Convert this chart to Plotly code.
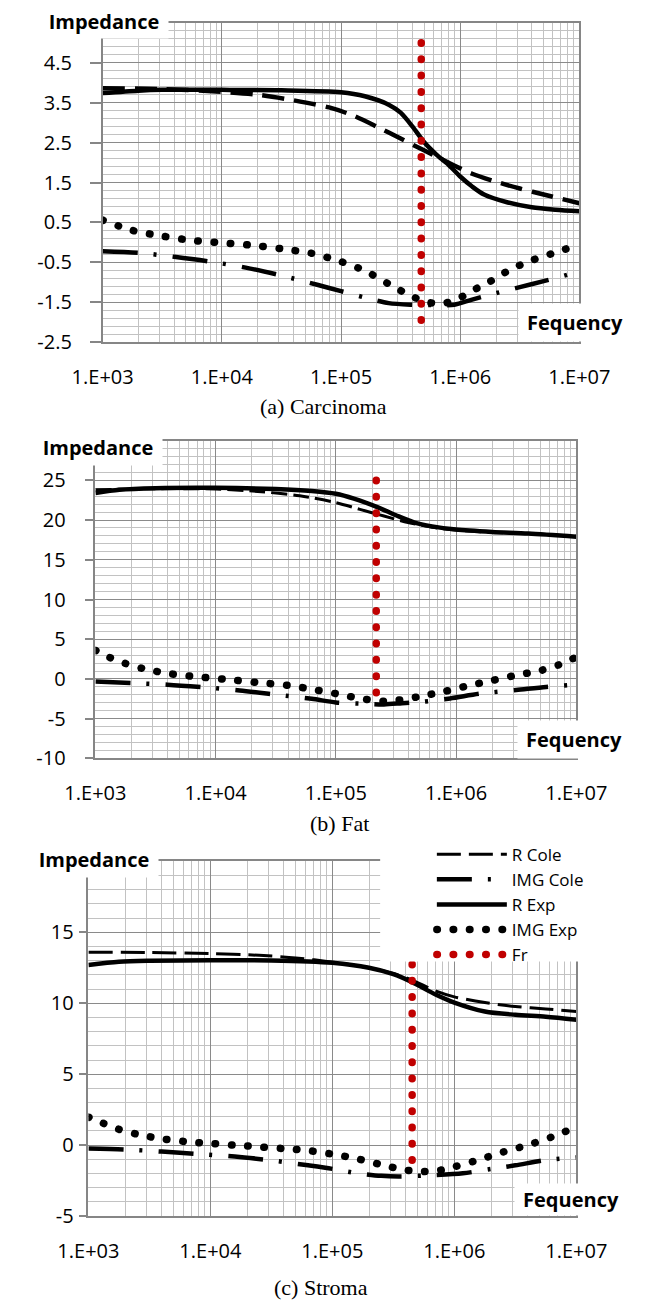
import plotly.graph_objects as go

W, H = 666, 1312

# ---------------- data (x given as log10 of frequency in Hz) ----------------
# (a) Carcinoma
a_rcole_e = [3.0, 3.5, 4.0, 4.3, 4.6, 4.9, 5.1, 5.3, 5.5, 5.7, 5.9, 6.1, 6.3, 6.5, 6.7, 7.0]
a_rcole_v = [3.86, 3.84, 3.77, 3.70, 3.56, 3.38, 3.18, 2.90, 2.60, 2.30, 2.00, 1.72, 1.52, 1.35, 1.20, 0.98]
a_icole_e = [3.0, 3.3, 3.6, 3.9, 4.2, 4.5, 4.8, 5.0, 5.2, 5.4, 5.6, 5.8, 5.95, 6.1, 6.3, 6.5, 6.7, 6.85, 7.0]
a_icole_v = [-0.22, -0.26, -0.36, -0.48, -0.63, -0.83, -1.06, -1.22, -1.38, -1.52, -1.56, -1.57, -1.56, -1.43, -1.27, -1.12, -0.97, -0.85, -0.72]
a_rexp_e = [3.0, 3.3, 3.5, 4.0, 4.5, 5.0, 5.2, 5.4, 5.5, 5.6, 5.7, 5.8, 5.9, 6.0, 6.1, 6.2, 6.4, 6.6, 6.8, 7.0]
a_rexp_v = [3.74, 3.80, 3.82, 3.82, 3.81, 3.76, 3.66, 3.45, 3.25, 2.90, 2.50, 2.20, 1.95, 1.65, 1.40, 1.20, 1.00, 0.88, 0.82, 0.78]
a_iexp_e = [3.0, 3.25, 3.5, 3.75, 4.0, 4.25, 4.5, 4.75, 5.0, 5.2, 5.4, 5.6, 5.75, 5.85, 5.97, 6.1, 6.25, 6.42, 6.6, 6.8, 7.0]
a_iexp_v = [0.56, 0.30, 0.16, 0.05, -0.01, -0.07, -0.16, -0.27, -0.48, -0.71, -1.04, -1.36, -1.51, -1.53, -1.43, -1.21, -0.98, -0.68, -0.45, -0.25, -0.05]
a_fr_e = [5.673, 5.673]
a_fr_v = [5.0, -2.25]
a_yticks = [-2.5, -1.5, -0.5, 0.5, 1.5, 2.5, 3.5, 4.5]

# (b) Fat
b_rcole_e = [3.0, 3.5, 4.0, 4.35, 4.7, 5.0, 5.2, 5.4, 5.6, 5.8, 6.0, 6.3, 6.6, 7.0]
b_rcole_v = [23.8, 23.95, 23.9, 23.6, 23.05, 22.2, 21.35, 20.5, 19.7, 19.1, 18.75, 18.45, 18.3, 17.95]
b_icole_e = [3.0, 3.3, 3.6, 3.9, 4.2, 4.5, 4.8, 5.0, 5.2, 5.4, 5.55, 5.7, 5.95, 6.2, 6.5, 6.75, 7.0]
b_icole_v = [-0.33, -0.52, -0.72, -1.05, -1.45, -1.97, -2.5, -2.95, -3.1, -3.2, -3.05, -2.9, -2.45, -1.85, -1.4, -1.0, -0.7]
b_rexp_e = [3.0, 3.2, 3.5, 4.0, 4.5, 4.8, 5.0, 5.15, 5.35, 5.5, 5.65, 5.8, 6.0, 6.3, 6.6, 7.0]
b_rexp_v = [23.4, 23.8, 24.0, 24.05, 23.9, 23.65, 23.3, 22.7, 21.6, 20.6, 19.7, 19.2, 18.8, 18.5, 18.3, 17.9]
b_iexp_e = [3.0, 3.12, 3.25, 3.4, 3.6, 3.85, 4.1, 4.35, 4.6, 4.8, 5.0, 5.2, 5.4, 5.55, 5.7, 5.9, 6.1, 6.3, 6.5, 6.7, 6.85, 7.0]
b_iexp_v = [3.6, 2.7, 1.95, 1.3, 0.7, 0.27, -0.06, -0.45, -0.8, -1.3, -1.85, -2.45, -2.8, -2.6, -2.2, -1.58, -0.85, -0.2, 0.47, 1.05, 1.75, 2.75]
b_fr_e = [5.336, 5.336]
b_fr_v = [25.0, -3.3]
b_yticks = [-10, -5, 0, 5, 10, 15, 20, 25]

# (c) Stroma
c_rcole_e = [3.0, 3.5, 4.0, 4.4, 4.7, 5.0, 5.3, 5.5, 5.65, 5.85, 6.0, 6.25, 6.5, 6.75, 7.0]
c_rcole_v = [13.6, 13.58, 13.5, 13.38, 13.2, 12.9, 12.5, 12.1, 11.65, 10.85, 10.45, 10.05, 9.77, 9.6, 9.42]
c_icole_e = [3.0, 3.3, 3.6, 3.9, 4.2, 4.5, 4.8, 5.0, 5.2, 5.4, 5.55, 5.8, 6.07, 6.3, 6.5, 6.75, 7.0]
c_icole_v = [-0.23, -0.3, -0.45, -0.62, -0.8, -1.07, -1.42, -1.67, -1.97, -2.16, -2.2, -2.12, -1.98, -1.68, -1.42, -1.05, -0.86]
c_rexp_e = [3.0, 3.25, 3.5, 4.0, 4.5, 5.0, 5.3, 5.5, 5.65, 5.85, 6.0, 6.25, 6.5, 6.75, 7.0]
c_rexp_v = [12.7, 12.93, 13.0, 13.03, 13.02, 12.85, 12.5, 12.05, 11.5, 10.6, 10.05, 9.42, 9.19, 9.05, 8.84]
c_iexp_e = [3.0, 3.12, 3.25, 3.4, 3.6, 3.8, 4.0, 4.2, 4.4, 4.6, 4.8, 5.0, 5.2, 5.4, 5.6, 5.75, 5.88, 6.0, 6.2, 6.4, 6.6, 6.8, 6.92, 7.0]
c_iexp_v = [1.98, 1.55, 1.12, 0.77, 0.45, 0.25, 0.12, 0.0, -0.12, -0.24, -0.38, -0.63, -0.95, -1.37, -1.76, -1.86, -1.77, -1.52, -1.03, -0.48, 0.0, 0.58, 1.0, 1.3]
c_fr_e = [5.654, 5.654]
c_fr_v = [12.75, -2.1]
c_yticks = [-5, 0, 5, 10, 15]

series_names = ["R Cole", "IMG Cole", "R Exp", "IMG Exp", "Fr"]
x_tick_exps = [3, 4, 5, 6, 7]
x_tick_text = ["1.E+03", "1.E+04", "1.E+05", "1.E+06", "1.E+07"]
captions = ["(a) Carcinoma", "(b) Fat", "(c) Stroma"]
y_axis_title = "Impedance"
x_axis_title = "Fequency"

# ---------------- layout geometry (pixels) ----------------
panels = [
    dict(x0=79, x1=604.7, y0=23, y1=345.7, yr=[-2.5, 5.5], yt=a_yticks, t0=0.5, mdt=0.2, tl=11, so=14,
         ibox=(81, 21, 128, 34), fbox=(600, 326, 112, 37), cap=(323, 411), rdash=("22px,10px", 4.5)),
    dict(x0=71, x1=601.3, y0=445, y1=766, yr=[-10, 30], yt=b_yticks, t0=0, mdt=1, tl=9, so=15,
         ibox=(74, 452, 128, 35), fbox=(599, 747, 112, 37), cap=(340, 832), rdash=("16px,6px", 3)),
    dict(x0=63.3, x1=601.3, y0=870, y1=1228.3, yr=[-5, 20], yt=c_yticks, t0=0, mdt=1, tl=8, so=1,
         ibox=(70, 868, 128, 36), fbox=(595, 1212, 112, 31), cap=(320, 1300), rdash=("24px,8px", 3)),
]
data = [
    [(a_rcole_e, a_rcole_v), (a_icole_e, a_icole_v), (a_rexp_e, a_rexp_v), (a_iexp_e, a_iexp_v), (a_fr_e, a_fr_v)],
    [(b_rcole_e, b_rcole_v), (b_icole_e, b_icole_v), (b_rexp_e, b_rexp_v), (b_iexp_e, b_iexp_v), (b_fr_e, b_fr_v)],
    [(c_rcole_e, c_rcole_v), (c_icole_e, c_icole_v), (c_rexp_e, c_rexp_v), (c_iexp_e, c_iexp_v), (c_fr_e, c_fr_v)],
]

def xp(px):
    return px / W

def yp(py):
    return 1 - py / H

TICKFONT = dict(family="Open Sans", size=20, color="#000000")
MAJ = "#8a8a8a"
MIN = "#c2c2c2"
AX = "#868686"
DOT = "0.5px,15.8px"

fig = go.Figure()
minor_x = [m * 10 ** d for d in range(3, 7) for m in range(2, 10)]

for i, (p, ser) in enumerate(zip(panels, data)):
    xa = "x" if i == 0 else f"x{i+1}"
    ya = "y" if i == 0 else f"y{i+1}"
    styles = [
        dict(color="black", width=p["rdash"][1], dash=p["rdash"][0]),
        dict(color="black", width=4.5, dash="35px,16px,3px,16px"),
        dict(color="black", width=4.5),
        dict(color="black", width=7.5, dash=DOT),
        dict(color="#C00000", width=7.5, dash=DOT),
    ]
    for name, (e, v), st in zip(series_names, ser, styles):
        fig.add_trace(go.Scatter(
            x=[10 ** k for k in e], y=v, mode="lines", name=name,
            line=dict(shape="spline", smoothing=0.8, **st),
            xaxis=xa, yaxis=ya, showlegend=(i == 2), hoverinfo="skip"))

    xk = "xaxis" if i == 0 else f"xaxis{i+1}"
    yk = "yaxis" if i == 0 else f"yaxis{i+1}"
    fig.update_layout(**{
        xk: dict(type="log", range=[3, 7], domain=[xp(p["x0"]), xp(p["x1"])], anchor=ya,
                 tickmode="array", tickvals=[10 ** k for k in x_tick_exps], ticktext=x_tick_text,
                 showgrid=True, gridcolor=MAJ, gridwidth=1.2, ticks="", tickfont=TICKFONT,
                 ticklabelstandoff=16, showline=True, linecolor=AX, linewidth=1.5, mirror=True,
                 zeroline=False,
                 minor=dict(tickmode="array", tickvals=minor_x, showgrid=True, gridcolor=MIN, gridwidth=1, ticks="")),
        yk: dict(range=p["yr"], domain=[yp(p["y1"]), yp(p["y0"])], anchor=xa,
                 tickmode="array", tickvals=p["yt"], ticktext=[f"{v:g}" for v in p["yt"]],
                 showgrid=True, gridcolor=MAJ, gridwidth=1.2,
                 ticks="outside", ticklen=p["tl"], tickcolor=AX, tickwidth=1.5, tickfont=TICKFONT,
                 ticklabelstandoff=p["so"], showline=True, linecolor=AX, linewidth=1.5, mirror=True,
                 zeroline=False,
                 minor=dict(tickmode="linear", dtick=p["mdt"], tick0=p["t0"], showgrid=True,
                            gridcolor=MIN, gridwidth=1, ticks="")),
    })

    cx, cy, bw, bh = p["ibox"]
    fig.add_annotation(text=f"<b>{y_axis_title}</b>", xref="paper", yref="paper", x=xp(cx), y=yp(cy),
                       xanchor="center", yanchor="middle", width=bw, height=bh, bgcolor="white",
                       borderpad=0, showarrow=False, font=dict(family="Open Sans", size=20, color="#000"))
    cx, cy, bw, bh = p["fbox"]
    fig.add_annotation(text=f"<b>{x_axis_title}</b>", xref="paper", yref="paper", x=xp(cx), y=yp(cy),
                       xanchor="center", yanchor="middle", width=bw, height=bh, bgcolor="white",
                       borderpad=0, showarrow=False, font=dict(family="Open Sans", size=20, color="#000"))
    cx, cy = p["cap"]
    fig.add_annotation(text=captions[i], xref="paper", yref="paper", x=xp(cx), y=yp(cy),
                       xanchor="center", yanchor="middle", showarrow=False,
                       font=dict(family="Liberation Serif", size=22, color="#000"))

# white panel behind the legend (covers grid of panel c)
fig.add_shape(type="rect", xref="paper", yref="paper", x0=xp(385), x1=xp(608), y0=yp(971), y1=yp(840),
              fillcolor="white", line=dict(width=0), layer="above")

fig.update_layout(
    width=W, height=H, margin=dict(l=0, r=0, t=0, b=0),
    paper_bgcolor="white", plot_bgcolor="white",
    legend=dict(x=xp(442), y=yp(845), xanchor="left", yanchor="top", bgcolor="rgba(0,0,0,0)",
                font=dict(family="Open Sans", size=17, color="#000"), itemwidth=70,
                tracegroupgap=0),
)

post = """
var st=document.createElement('style');
st.textContent='body{margin:0;padding:0;} path[style*="dasharray: 0.5px"]{stroke-linecap:round !important;}';
document.head.appendChild(st);
"""
fig.write_html("out.html", post_script=post, config={"displayModeBar": False})
